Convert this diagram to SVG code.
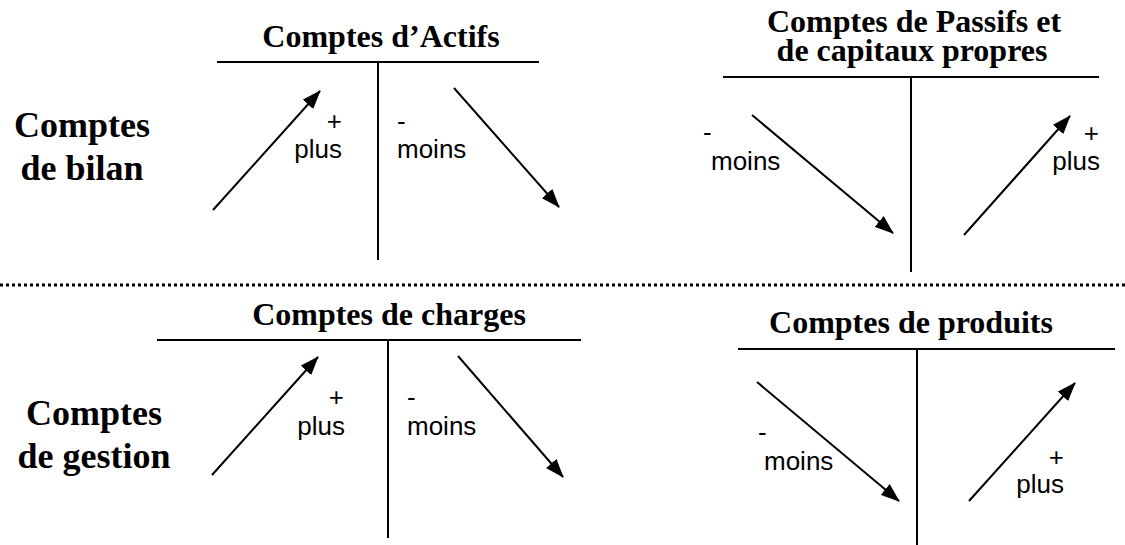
<svg xmlns="http://www.w3.org/2000/svg" width="1125" height="545" viewBox="0 0 1125 545">
<defs>
<style>
.t{font-family:"Liberation Serif","Times New Roman",serif;font-weight:bold;font-size:32px;fill:#000;text-anchor:middle}
.big{font-family:"Liberation Serif","Times New Roman",serif;font-weight:bold;font-size:36px;fill:#000;text-anchor:middle}
.s{font-family:"Liberation Sans",Arial,sans-serif;font-size:26px;fill:#000}
.e{text-anchor:end}
.ln{stroke:#000;stroke-width:2;fill:none}
.ar{stroke:#000;stroke-width:2;fill:none;marker-end:url(#ah)}
</style>
<marker id="ah" markerUnits="userSpaceOnUse" markerWidth="19" markerHeight="14" viewBox="0 0 19 14" refX="18" refY="7" orient="auto">
<path d="M0,0 L19,7 L0,14 Z" fill="#000"/>
</marker>
</defs>
<rect width="1125" height="545" fill="#fff"/>

<g id="label-bilan">
<text class="big" x="82" y="137">Comptes</text>
<text class="big" x="82" y="180">de bilan</text>
</g>
<g id="label-gestion">
<text class="big" x="94" y="425">Comptes</text>
<text class="big" x="94" y="468">de gestion</text>
</g>

<line id="separator" x1="0" y1="285" x2="1125" y2="285" stroke="#000" stroke-width="3" stroke-dasharray="3 3"/>

<g id="actifs">
<text class="t" x="381" y="47">Comptes d’Actifs</text>
<line class="ln" x1="217" y1="62" x2="539" y2="62"/>
<line class="ln" x1="378" y1="62" x2="378" y2="260"/>
<text class="s e" x="342" y="130">+</text>
<text class="s e" x="342" y="158">plus</text>
<text class="s" x="397" y="130">-</text>
<text class="s" x="397" y="158">moins</text>
</g>

<g id="passifs">
<text class="t" x="914" y="32">Comptes de Passifs et</text>
<text class="t" x="912" y="61">de capitaux propres</text>
<line class="ln" x1="723" y1="77" x2="1099" y2="77"/>
<line class="ln" x1="911" y1="77" x2="911" y2="272"/>
<text class="s" x="703" y="141">-</text>
<text class="s" x="711" y="170">moins</text>
<text class="s e" x="1099" y="142">+</text>
<text class="s e" x="1100" y="170">plus</text>
</g>

<g id="charges">
<text class="t" x="389" y="325">Comptes de charges</text>
<line class="ln" x1="157" y1="340" x2="581" y2="340"/>
<line class="ln" x1="388" y1="340" x2="388" y2="538"/>
<text class="s e" x="344" y="406">+</text>
<text class="s e" x="345" y="435">plus</text>
<text class="s" x="407" y="406">-</text>
<text class="s" x="407" y="435">moins</text>
</g>

<g id="produits">
<text class="t" x="911" y="333">Comptes de produits</text>
<line class="ln" x1="738" y1="349" x2="1115" y2="349"/>
<line class="ln" x1="917" y1="349" x2="917" y2="545"/>
<text class="s" x="758" y="441">-</text>
<text class="s" x="764" y="470">moins</text>
<text class="s e" x="1064" y="466">+</text>
<text class="s e" x="1064" y="493">plus</text>
</g>

<g id="connectors">
<line class="ar" x1="213" y1="210" x2="320" y2="91"/>
<line class="ar" x1="454" y1="88" x2="559" y2="207"/>
<line class="ar" x1="752" y1="115" x2="893" y2="233"/>
<line class="ar" x1="964" y1="235" x2="1070" y2="116"/>
<line class="ar" x1="212" y1="475" x2="318" y2="357"/>
<line class="ar" x1="458" y1="356" x2="563" y2="477"/>
<line class="ar" x1="757" y1="382" x2="899" y2="501"/>
<line class="ar" x1="969" y1="501" x2="1075" y2="383"/>
</g>
</svg>
